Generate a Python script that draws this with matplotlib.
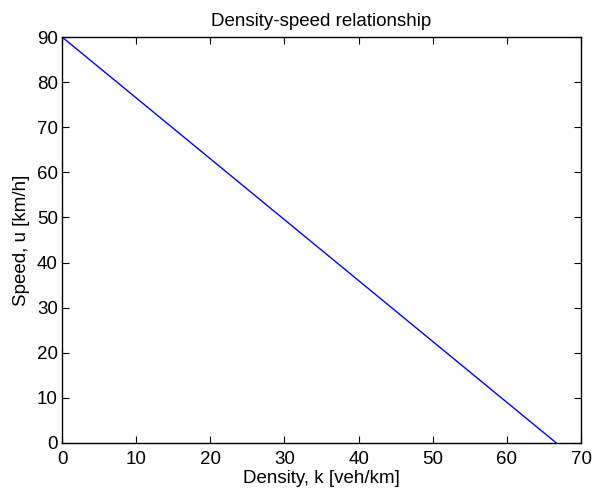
import matplotlib
matplotlib.use('Agg')
import matplotlib.pyplot as plt

# Linear density-speed relationship (Greenshields)
density = [0, 66.67]
speed = [90, 0]

plt.rcParams['font.family'] = ['Liberation Sans', 'DejaVu Sans']

fig = plt.figure(figsize=(5.93, 4.96), dpi=100)
ax = fig.add_axes([0.1046, 0.1069, 0.8752, 0.8185])

ax.plot(density, speed, color='blue', linewidth=1.0)

ax.set_xlim(0, 70)
ax.set_ylim(0, 90)
ax.set_xticks(range(0, 71, 10))
ax.set_yticks(range(0, 91, 10))
ax.tick_params(direction='in', top=True, right=True, labelsize=13.5, length=5)
ax.tick_params(axis='x', pad=6)
ax.tick_params(axis='y', pad=3)
for s in ax.spines.values():
    s.set_linewidth(1.0)

ax.set_xlabel('Density, k [veh/km]', fontsize=13.5, labelpad=1)
ax.set_ylabel('Speed, u [km/h]', fontsize=13.5, labelpad=5)
ax.set_title('Density-speed relationship', fontsize=13.5, pad=8)

fig.savefig('out.png', dpi=100)
